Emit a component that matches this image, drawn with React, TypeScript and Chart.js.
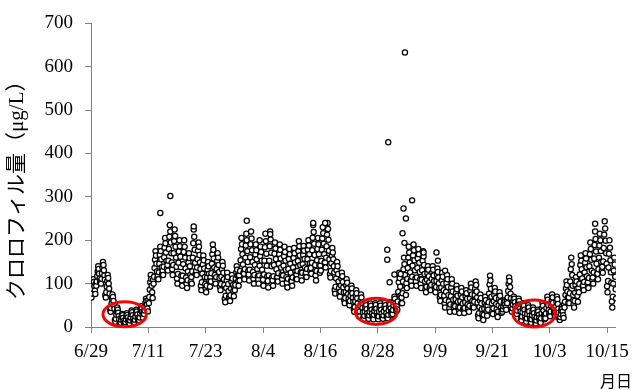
import React, { useEffect, useRef } from "react";
import { Chart, registerables } from "chart.js";

Chart.register(...registerables);

// x-axis: day index counted from 6/29
const tickDays = [0, 12, 24, 36, 48, 60, 72, 84, 96, 108];
const tickLabels = ["6/29", "7/11", "7/23", "8/4", "8/16", "8/28", "9/9", "9/21", "10/3", "10/15"];
const yMin = 0;
const yMax = 700;
const yStep = 100;
const xMaxDay = 109.85;

const yTitle = "クロロフィル量（μg/L）";
const xTitle = "月日";

// ten readings per day, chlorophyll in µg/L, from 6/29 (day 0) to 10/16 (day 109)
const dailyReadings: number[][] = [
  [73, 68, 77, 88, 99, 110, 104, 94, 84, 76],
  [100, 95, 105, 117, 128, 140, 134, 123, 112, 103],
  [106, 100, 111, 124, 137, 150, 143, 131, 119, 109],
  [74, 68, 80, 93, 106, 120, 113, 100, 88, 77],
  [40, 35, 44, 54, 65, 75, 69, 60, 50, 42],
  [16, 12, 19, 28, 36, 45, 40, 33, 25, 18],
  [8, 5, 10, 17, 23, 30, 27, 21, 14, 9],
  [8, 5, 11, 18, 25, 32, 28, 22, 15, 10],
  [12, 8, 15, 22, 30, 38, 34, 27, 19, 13],
  [14, 10, 17, 24, 32, 40, 36, 29, 21, 15],
  [19, 15, 22, 31, 39, 48, 43, 35, 27, 21],
  [34, 30, 38, 47, 56, 65, 60, 52, 43, 36],
  [63, 55, 69, 86, 103, 120, 111, 95, 80, 67],
  [109, 100, 116, 136, 155, 175, 165, 146, 128, 113],
  [119, 110, 126, 146, 166, 185, 175, 156, 138, 123],
  [130, 120, 139, 161, 183, 205, 193, 172, 152, 135],
  [143, 130, 153, 180, 208, 235, 220, 195, 170, 149],
  [133, 120, 143, 170, 198, 225, 210, 185, 160, 139],
  [112, 100, 122, 148, 174, 200, 186, 162, 138, 118],
  [108, 95, 118, 145, 173, 200, 185, 160, 135, 114],
  [100, 90, 108, 128, 149, 170, 159, 140, 120, 104],
  [115, 100, 128, 160, 193, 225, 208, 178, 148, 123],
  [129, 120, 137, 156, 176, 195, 185, 166, 149, 134],
  [95, 85, 103, 123, 144, 165, 154, 135, 115, 99],
  [88, 80, 95, 114, 132, 150, 140, 123, 107, 93],
  [115, 105, 124, 146, 168, 190, 178, 158, 137, 120],
  [108, 100, 115, 134, 152, 170, 160, 143, 127, 113],
  [93, 85, 99, 116, 133, 150, 141, 125, 110, 97],
  [65, 57, 72, 90, 107, 125, 115, 99, 83, 69],
  [67, 60, 73, 89, 104, 120, 112, 97, 83, 71],
  [92, 85, 97, 111, 126, 140, 132, 119, 106, 95],
  [119, 107, 129, 154, 180, 205, 191, 168, 144, 125],
  [123, 110, 133, 160, 188, 215, 200, 175, 150, 129],
  [121, 107, 132, 161, 191, 220, 204, 177, 150, 127],
  [111, 100, 120, 143, 167, 190, 177, 156, 134, 116],
  [110, 100, 119, 141, 163, 185, 173, 153, 132, 115],
  [109, 95, 121, 153, 184, 215, 198, 169, 141, 117],
  [106, 91, 119, 153, 186, 220, 202, 171, 140, 114],
  [107, 95, 117, 143, 169, 195, 181, 157, 133, 113],
  [115, 105, 124, 146, 168, 190, 178, 158, 137, 120],
  [110, 100, 119, 141, 163, 185, 173, 153, 132, 115],
  [102, 91, 111, 134, 157, 180, 168, 146, 125, 107],
  [105, 95, 114, 137, 159, 182, 170, 149, 128, 111],
  [121, 110, 129, 152, 175, 198, 186, 165, 143, 126],
  [117, 107, 125, 145, 166, 187, 176, 157, 137, 121],
  [125, 115, 134, 156, 178, 200, 188, 168, 147, 130],
  [136, 123, 148, 177, 206, 235, 219, 192, 166, 143],
  [119, 107, 129, 154, 180, 205, 191, 168, 144, 125],
  [142, 130, 152, 178, 204, 230, 216, 192, 168, 148],
  [149, 137, 160, 186, 213, 240, 226, 201, 176, 156],
  [122, 114, 129, 147, 164, 182, 172, 156, 140, 126],
  [86, 77, 93, 112, 131, 150, 140, 122, 105, 90],
  [77, 70, 82, 96, 111, 125, 117, 104, 91, 80],
  [62, 55, 67, 81, 96, 110, 102, 89, 76, 65],
  [55, 50, 60, 72, 83, 95, 89, 78, 67, 58],
  [41, 35, 46, 59, 72, 85, 78, 66, 54, 44],
  [31, 25, 36, 49, 62, 75, 68, 56, 44, 34],
  [22, 18, 26, 36, 45, 55, 50, 41, 32, 25],
  [23, 19, 27, 35, 46, 54, 49, 40, 31, 24],
  [21, 18, 28, 37, 44, 55, 51, 42, 33, 26],
  [22, 18, 25, 35, 45, 55, 49, 40, 31, 23],
  [23, 19, 27, 36, 46, 56, 50, 42, 32, 25],
  [24, 20, 28, 38, 48, 57, 52, 43, 34, 27],
  [35, 30, 39, 50, 60, 70, 65, 55, 45, 37],
  [50, 40, 59, 81, 103, 125, 113, 93, 72, 55],
  [68, 55, 78, 105, 133, 160, 145, 120, 95, 74],
  [101, 90, 111, 136, 160, 185, 172, 149, 126, 107],
  [106, 95, 116, 141, 165, 190, 177, 154, 131, 112],
  [105, 95, 114, 136, 158, 180, 168, 148, 127, 110],
  [100, 90, 109, 131, 153, 175, 163, 143, 122, 105],
  [87, 80, 93, 109, 124, 140, 132, 117, 103, 91],
  [92, 85, 97, 111, 126, 140, 132, 119, 106, 95],
  [87, 80, 92, 106, 121, 135, 127, 114, 101, 90],
  [68, 60, 74, 91, 108, 125, 116, 100, 85, 72],
  [54, 45, 62, 81, 101, 120, 110, 92, 73, 59],
  [44, 35, 52, 71, 91, 110, 100, 82, 63, 49],
  [42, 35, 48, 64, 79, 95, 87, 72, 58, 46],
  [39, 32, 45, 60, 75, 90, 82, 68, 54, 42],
  [38, 32, 44, 57, 71, 85, 78, 65, 52, 42],
  [43, 35, 49, 66, 83, 100, 91, 75, 60, 47],
  [52, 45, 58, 74, 89, 105, 97, 82, 68, 56],
  [27, 20, 32, 46, 61, 75, 67, 54, 41, 30],
  [22, 16, 28, 42, 56, 70, 62, 49, 37, 26],
  [49, 40, 57, 77, 98, 118, 107, 88, 70, 54],
  [37, 30, 43, 59, 74, 90, 82, 67, 53, 41],
  [30, 23, 36, 50, 65, 80, 72, 58, 45, 33],
  [38, 35, 41, 48, 55, 62, 58, 52, 45, 40],
  [62, 55, 68, 83, 99, 114, 106, 92, 77, 66],
  [39, 35, 43, 52, 61, 70, 65, 57, 48, 41],
  [34, 30, 38, 47, 56, 65, 60, 52, 43, 36],
  [20, 15, 24, 34, 45, 55, 49, 40, 30, 22],
  [17, 12, 20, 30, 40, 50, 45, 36, 26, 19],
  [14, 10, 18, 27, 36, 45, 40, 32, 23, 16],
  [12, 8, 15, 23, 32, 40, 36, 28, 20, 14],
  [15, 10, 20, 32, 44, 55, 49, 38, 27, 18],
  [26, 20, 31, 44, 57, 70, 63, 51, 39, 29],
  [31, 25, 36, 49, 62, 75, 68, 56, 44, 34],
  [30, 25, 35, 47, 58, 70, 64, 53, 42, 33],
  [20, 16, 23, 30, 38, 46, 42, 35, 27, 21],
  [52, 45, 58, 74, 89, 105, 97, 82, 68, 56],
  [68, 55, 78, 105, 133, 160, 145, 120, 95, 74],
  [53, 45, 60, 79, 97, 115, 105, 88, 72, 58],
  [90, 80, 99, 121, 143, 165, 153, 133, 112, 95],
  [95, 85, 104, 126, 148, 170, 158, 138, 117, 100],
  [103, 90, 113, 140, 168, 195, 180, 155, 130, 109],
  [114, 100, 126, 158, 189, 220, 203, 174, 146, 122],
  [123, 110, 133, 160, 188, 215, 200, 175, 150, 129],
  [139, 125, 151, 182, 213, 244, 227, 199, 170, 146],
  [94, 80, 106, 137, 169, 200, 183, 154, 126, 102],
  [59, 45, 70, 100, 130, 160, 144, 116, 87, 66],
];

// isolated high readings (day index, value)
const spikeDays = [14.5, 16.6, 21.5, 32.6, 35.3, 37.5, 46.5, 49.0, 62.0, 62.0, 62.2, 62.5, 63.5, 64.8, 65.2, 65.4, 65.6, 65.7, 65.9, 67.2, 69.6, 72.3, 72.6, 74.1, 105.5];
const spikeValues = [263, 302, 232, 245, 200, 214, 240, 240, 178, 155, 426, 103, 121, 122, 216, 273, 194, 633, 250, 292, 172, 172, 153, 130, 238];

// low-chlorophyll periods circled in red: [start day, end day] and [low, high] value
const highlightDays = [[2.5, 11.6], [55.3, 64.1], [88.3, 97.2]];
const highlightValues = [[0.5, 58], [6, 66], [0, 62]];

const serif = "'Liberation Serif', 'Times New Roman', serif";
const mixed = "'Liberation Serif', 'Noto Sans CJK JP', serif";
const jp = "'Noto Sans CJK JP', sans-serif";

export default function App() {
  const ref = useRef<HTMLCanvasElement | null>(null);

  useEffect(() => {
    if (!ref.current) return;
    const points: { x: number; y: number }[] = [];
    dailyReadings.forEach((vals, d) => {
      vals.forEach((v, i) => points.push({ x: d + i / vals.length, y: v }));
    });
    spikeDays.forEach((d, i) => points.push({ x: d, y: spikeValues[i] }));

    const overlay = {
      id: "overlay",
      afterDatasetsDraw(chart: any) {
        const { ctx, scales } = chart;
        const xs = scales.x;
        const ys = scales.y;
        ctx.save();
        ctx.strokeStyle = "#ff0000";
        ctx.lineWidth = 3;
        highlightDays.forEach(([d0, d1], i) => {
          const [v0, v1] = highlightValues[i];
          const x0 = xs.getPixelForValue(d0);
          const x1 = xs.getPixelForValue(d1);
          const y0 = ys.getPixelForValue(v0);
          const y1 = ys.getPixelForValue(v1);
          ctx.beginPath();
          ctx.ellipse((x0 + x1) / 2, (y0 + y1) / 2, Math.abs(x1 - x0) / 2, Math.abs(y1 - y0) / 2, 0, 0, Math.PI * 2);
          ctx.stroke();
        });
        ctx.restore();
      },
      afterDraw(chart: any) {
        const { ctx, chartArea, width, height } = chart;
        ctx.save();
        ctx.fillStyle = "#000";
        ctx.translate(17, (chartArea.top + chartArea.bottom) / 2 + 10);
        ctx.rotate(-Math.PI / 2);
        ctx.font = `21px ${mixed}`;
        ctx.textAlign = "center";
        ctx.textBaseline = "middle";
        ctx.fillText(yTitle, 0, 0);
        ctx.restore();
        ctx.save();
        ctx.fillStyle = "#000";
        ctx.font = `16px ${jp}`;
        ctx.textAlign = "right";
        ctx.textBaseline = "middle";
        ctx.fillText(xTitle, width - 5, height - 9);
        ctx.restore();
      },
    };

    const chart = new Chart(ref.current, {
      type: "scatter",
      data: {
        datasets: [
          {
            data: points,
            pointRadius: 2.6,
            pointBorderWidth: 1.25,
            pointBackgroundColor: "#ffffff",
            pointBorderColor: "#000000",
          },
        ],
      },
      options: {
        animation: false,
        responsive: true,
        maintainAspectRatio: false,
        devicePixelRatio: 1,
        layout: { padding: { left: 0, right: 17, top: 20, bottom: 0 } },
        plugins: { legend: { display: false }, tooltip: { enabled: false } },
        scales: {
          x: {
            type: "linear",
            min: 0,
            max: xMaxDay,
            afterBuildTicks: (s: any) => {
              s.ticks = tickDays.map((v) => ({ value: v }));
            },
            afterFit: (s: any) => {
              s.height = 63;
            },
            ticks: {
              autoSkip: false,
              maxRotation: 0,
              padding: 8,
              color: "#000",
              font: { family: serif, size: 19 },
              callback: (v: any) => {
                const i = tickDays.indexOf(Number(v));
                return i >= 0 ? tickLabels[i] : "";
              },
            },
            grid: { drawOnChartArea: false, tickLength: 6, color: "#808080" },
            border: { color: "#808080", width: 1 },
          },
          y: {
            min: yMin,
            max: yMax,
            afterFit: (s: any) => {
              s.width = 91;
            },
            ticks: {
              stepSize: yStep,
              padding: 12,
              color: "#000",
              font: { family: serif, size: 19 },
            },
            grid: { drawOnChartArea: false, tickLength: 6, color: "#808080" },
            border: { color: "#808080", width: 1 },
          },
        },
      },
      plugins: [overlay],
    });
    return () => chart.destroy();
  }, []);

  return (
    <div style={{ position: "fixed", left: 0, top: 0, width: 637, height: 390, background: "#fff" }}>
      <canvas ref={ref} />
    </div>
  );
}
